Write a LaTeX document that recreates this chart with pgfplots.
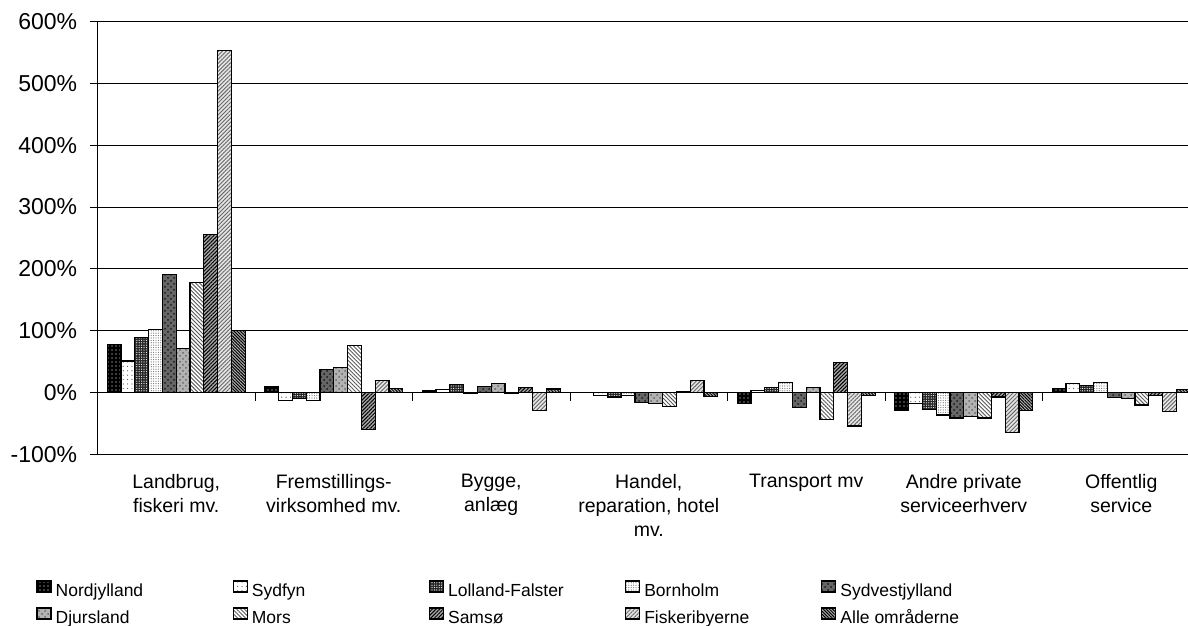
\documentclass[border=0pt]{standalone}
\usepackage{fontspec}
\setmainfont{Liberation Sans}
\usepackage{pgfplots}
\pgfplotsset{compat=1.18}
\usepackage{pgfplotstable}
\usetikzlibrary{patterns,patterns.meta}

% Endringer i beskæftigelsen fordelt på erhverv (%)
\pgfplotstableread{
x   Nord Sydfyn Lolland Bornholm Sydvest Djurs Mors Samso Fisk Alle
0.5  78   51     89      102      191     71    178  256   553  101
1.5   9  -13    -10      -13       37     41     76  -59    19    7
2.5   4    5     13       -2       10     15     -2    8   -29    6
3.5   0   -5     -7       -5      -16    -17    -22    2    19   -6
4.5 -17    3      8       17      -24      8    -44   49   -54   -5
5.5 -28  -17    -27      -36      -41    -38    -41   -7   -64  -29
6.5   7   15     11       17       -8     -9    -20   -4   -31    5
}\data

\begin{document}
\begin{tikzpicture}
\begin{axis}[
  at={(48.75pt,85.75pt)}, anchor=south west,
  scale only axis, width=551.25pt, height=216.5pt,
  ybar,
  bar width=0.0876,
  xmin=0, xmax=7, ymin=-100, ymax=600,
  axis lines*=left,
  axis line style={-, black, line width=0.75pt},
  ymajorgrids, grid style={black, line width=0.5pt},
  ytick={-100,0,100,200,300,400,500,600},
  yticklabel={\pgfmathprintnumber{\tick}\%},
  /pgf/number format/assume math mode=true,
  ytick style={black, line width=0.5pt},
  major tick length=4pt, tick align=outside,
  yticklabel style={font=\fontsize{11.5pt}{13pt}\selectfont, anchor=east, inner sep=0pt, xshift=-6pt},
  xtick={0.5,1.5,2.5,3.5,4.5,5.5,6.5},
  xticklabels={{Landbrug,\\fiskeri mv.},{Fremstillings-\\virksomhed mv.},{Bygge,\\anlæg},{Handel,\\reparation, hotel\\mv.},{Transport mv},{Andre private\\serviceerhverv},{Offentlig\\service}},
  xtick style={draw=none},
  xticklabel style={font=\fontsize{9.75pt}{12pt}\selectfont, align=center, anchor=north, inner sep=0pt, yshift=-5.5pt},
  every axis plot/.append style={draw=black, line width=0.6pt},
  legend image code/.code={\draw[#1] (0pt,0pt) rectangle (7pt,5.5pt);},
  legend columns=5,
  legend style={at={(-0.05569,-0.2898)}, anchor=north west, draw=none, inner sep=0pt,
    font=\fontsize{8.75pt}{10pt}\selectfont, row sep=3.6pt,
    nodes={inner sep=0pt, text height=6.5pt, text depth=1.8pt},
    /tikz/every odd column/.append style={column sep=2pt},
    /tikz/every even column/.append style={column sep=0pt}},
]
\addplot[bar shift=-0.3942, fill=black, postaction={pattern={Dots[radius=0.35pt,distance=2pt]}, pattern color=white}] table[x=x,y=Nord] {\data};
\addplot[bar shift=-0.3066, fill=white, postaction={pattern={Dots[radius=0.3pt,distance=2.2pt]}, pattern color=black!70}] table[x=x,y=Sydfyn] {\data};
\addplot[bar shift=-0.2190, fill=black!85, postaction={pattern={Dots[radius=0.3pt,distance=1.2pt]}, pattern color=white}] table[x=x,y=Lolland] {\data};
\addplot[bar shift=-0.1314, fill=white, postaction={pattern={Dots[radius=0.3pt,distance=1.2pt]}, pattern color=black!55}] table[x=x,y=Bornholm] {\data};
\addplot[bar shift=-0.0438, fill=black!60, postaction={pattern=crosshatch dots, pattern color=black!90}] table[x=x,y=Sydvest] {\data};
\addplot[bar shift=0.0438, fill=black!30, postaction={pattern=crosshatch dots, pattern color=black!60}] table[x=x,y=Djurs] {\data};
\addplot[bar shift=0.1314, fill=white, postaction={pattern={Lines[angle=-45,distance=1.4pt,line width=0.45pt]}, pattern color=black!65}] table[x=x,y=Mors] {\data};
\addplot[bar shift=0.2190, fill=black!35, postaction={pattern={Lines[angle=45,distance=1.3pt,line width=0.5pt]}, pattern color=black}] table[x=x,y=Samso] {\data};
\addplot[bar shift=0.3066, fill=black!10, postaction={pattern={Lines[angle=45,distance=1.4pt,line width=0.45pt]}, pattern color=black!60}] table[x=x,y=Fisk] {\data};
\addplot[bar shift=0.3942, fill=black!30, postaction={pattern={Lines[angle=-45,distance=1.1pt,line width=0.5pt]}, pattern color=black}] table[x=x,y=Alle] {\data};
\legend{\makebox[88.5pt][l]{Nordjylland},\makebox[88.5pt][l]{Sydfyn},\makebox[88.5pt][l]{Lolland-Falster},\makebox[88.5pt][l]{Bornholm},\makebox[88.5pt][l]{Sydvestjylland},
  \makebox[88.5pt][l]{Djursland},\makebox[88.5pt][l]{Mors},\makebox[88.5pt][l]{Samsø},\makebox[88.5pt][l]{Fiskeribyerne},\makebox[88.5pt][l]{Alle områderne}}
\draw[black, line width=0.5pt] (axis cs:0,0) -- (axis cs:7,0);
\pgfplotsinvokeforeach{1,2,3,4,5,6}{\draw[black, line width=0.5pt] (axis cs:#1,0) -- ([yshift=-4pt]axis cs:#1,0);}
\end{axis}
\pgfresetboundingbox
\useasboundingbox (0,0) rectangle (594pt,313pt);
\end{tikzpicture}
\end{document}
